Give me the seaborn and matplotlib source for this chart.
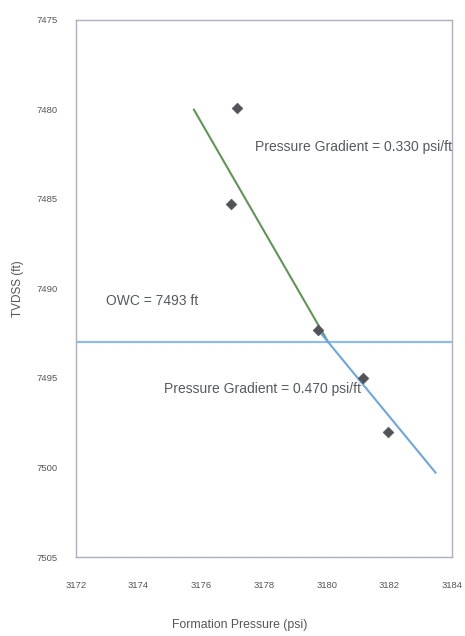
import numpy as np
import pandas as pd
import matplotlib
matplotlib.use("Agg")
import matplotlib.pyplot as plt
import seaborn as sns

# Measured formation pressures vs true vertical depth subsea
pressure_psi = [3177.14, 3176.95, 3179.72, 3181.16, 3181.96]
tvdss_ft = [7479.9, 7485.3, 7492.3, 7495.0, 7498.0]

# Fluid contact and gradient fits
owc_ft = 7493
owc_pressure_psi = 3180.05
oil_gradient = 0.330
water_gradient = 0.470
oil_depth_range = [7480.0, 7493.0]
water_depth_range = [7492.3, 7500.3]

x_ticks = [3172, 3174, 3176, 3178, 3180, 3182, 3184]
y_ticks = [7475, 7480, 7485, 7490, 7495, 7500, 7505]

sns.set_theme(style="white")
plt.rcParams["font.family"] = ["Liberation Sans", "DejaVu Sans"]

fig = plt.figure(figsize=(4.65, 6.36), dpi=100)
ax = fig.add_axes([0.1634, 0.1242, 0.8086, 0.8444])

points = pd.DataFrame({"pressure": pressure_psi, "depth": tvdss_ft})

def gradient_line(depths, grad):
    d = np.array(depths)
    p = owc_pressure_psi + grad * (d - owc_ft)
    return pd.DataFrame({"pressure": p, "depth": d})

oil = gradient_line(oil_depth_range, oil_gradient)
water = gradient_line(water_depth_range, water_gradient)

ax.axhline(owc_ft, color="#8fbbe4", lw=1.6, zorder=1)
sns.lineplot(data=oil, x="pressure", y="depth", sort=False, estimator=None,
             color="#5f9656", lw=1.5, ax=ax, zorder=2)
sns.lineplot(data=water, x="pressure", y="depth", sort=False, estimator=None,
             color="#6da6df", lw=1.5, ax=ax, zorder=2)
sns.scatterplot(data=points, x="pressure", y="depth", marker="D", s=30,
                color="#505357", edgecolor="#505357", ax=ax, zorder=3)

ax.set_xlim(3172, 3184)
ax.set_ylim(7505, 7475)
ax.set_xticks(x_ticks)
ax.set_yticks(y_ticks)
ax.set_xticklabels([str(v) for v in x_ticks])
ax.set_yticklabels([str(v) for v in y_ticks])
ax.tick_params(axis="both", labelsize=6.8, colors="#555555", length=0)
ax.tick_params(axis="x", pad=17)
ax.tick_params(axis="y", pad=13)

for s in ax.spines.values():
    s.set_color("#a9b1bd")
    s.set_linewidth(1.0)

ax.set_xlabel("Formation Pressure (psi)", fontsize=8.8, color="#555555")
ax.xaxis.set_label_coords((240 - 76) / 376, -(619 - 557) / 537)
ax.set_ylabel("TVDSS (ft)", fontsize=8.5, color="#555555")
ax.yaxis.set_label_coords(-(76 - 24) / 376, 0.5)

txt = dict(fontsize=10, color="#555a60")
ax.text(3184.0, 7482.1, f"Pressure Gradient = {oil_gradient:.3f} psi/ft",
        ha="right", va="center", **txt)
ax.text(3172.95, 7490.7, f"OWC = {owc_ft} ft", ha="left", va="center", **txt)
ax.text(3177.94, 7495.6, f"Pressure Gradient = {water_gradient:.3f} psi/ft",
        ha="center", va="center", **txt)

fig.savefig("out.png", dpi=100, facecolor="white")
